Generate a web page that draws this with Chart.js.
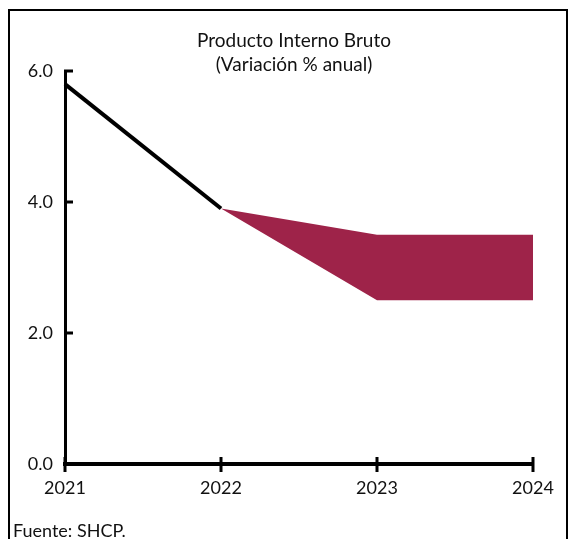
<!DOCTYPE html>
<html>
<head>
<meta charset="utf-8">
<script src="https://cdn.jsdelivr.net/npm/chart.js@4"></script>
<style>
  html, body { margin: 0; padding: 0; background: #fff; }
  #wrap { position: relative; width: 570px; height: 539px; overflow: hidden; font-family: Lato, "Open Sans", sans-serif; }
  #frame { position: absolute; left: 8px; top: 9px; width: 556px; height: 560px; border: 2px solid #000; border-bottom: none; }
  #title { position: absolute; left: 0; width: 588px; top: 28px; text-align: center; font-size: 19px; line-height: 24px; color: #111; }
  #source { position: absolute; left: 13px; top: 519px; font-size: 18px; line-height: 22px; color: #111; }
  canvas { position: absolute; left: 0; top: 0; }
</style>
</head>
<body>
<div id="wrap">
  <div id="frame"></div>
  <canvas id="pib" width="570" height="539"></canvas>
  <div id="title">Producto Interno Bruto<br>(Variación % anual)</div>
  <div id="source">Fuente: SHCP.</div>
</div>
<script>
const years = ['2021', '2022', '2023', '2024'];
const observed = [5.8, 3.9, null, null];
const rangeHigh = [null, 3.9, 3.5, 3.5];
const rangeLow = [null, 3.9, 2.5, 2.5];
const yTicks = [0, 2, 4, 6];

// tick marks: inward on the y axis, crossing the x axis
const tickMarks = {
    id: 'tickMarks',
    afterDraw(chart) {
        const { ctx, scales: { x, y } } = chart;
        ctx.save();
        ctx.strokeStyle = '#000';
        ctx.lineWidth = 3;
        ctx.beginPath();
        yTicks.forEach(v => {
            const py = y.getPixelForValue(v);
            ctx.moveTo(y.right - 1, py);
            ctx.lineTo(y.right + 8, py);
        });
        years.forEach((lab, i) => {
            const px = x.getPixelForValue(i);
            ctx.moveTo(px, x.top - 7);
            ctx.lineTo(px, x.top + 8);
        });
        ctx.stroke();
        ctx.restore();
    }
};

const ctx = document.getElementById('pib').getContext('2d');
new Chart(ctx, {
    type: 'line',
    data: {
        labels: years,
        datasets: [
            {
                data: rangeHigh,
                borderWidth: 0,
                borderColor: '#9E2349',
                pointRadius: 0,
                fill: false
            },
            {
                data: rangeLow,
                borderWidth: 0,
                borderColor: '#9E2349',
                backgroundColor: '#9E2349',
                pointRadius: 0,
                fill: '-1'
            },
            {
                data: observed,
                borderColor: '#000',
                borderWidth: 4,
                pointRadius: 0,
                fill: false
            }
        ]
    },
    plugins: [tickMarks],
    options: {
        responsive: false,
        animation: false,
        layout: { padding: { left: 0, right: 37, top: 71, bottom: 35 } },
        plugins: { legend: { display: false }, tooltip: { enabled: false } },
        scales: {
            x: {
                offset: false,
                afterFit: s => { s.height = 40; },
                border: { color: '#000', width: 4 },
                grid: { drawOnChartArea: false, drawTicks: false },
                ticks: {
                    color: '#111',
                    padding: 13,
                    maxRotation: 0,
                    font: { family: 'Lato, "Open Sans", sans-serif', size: 18 }
                }
            },
            y: {
                min: 0,
                max: 6,
                afterFit: s => { s.width = 65; },
                afterBuildTicks: s => { s.ticks = yTicks.map(v => ({ value: v })); },
                border: { color: '#000', width: 3 },
                grid: { drawOnChartArea: false, drawTicks: false },
                ticks: {
                    color: '#111',
                    padding: 12,
                    font: { family: 'Lato, "Open Sans", sans-serif', size: 18 },
                    callback: v => v.toFixed(1)
                }
            }
        }
    }
});
</script>
</body>
</html>
